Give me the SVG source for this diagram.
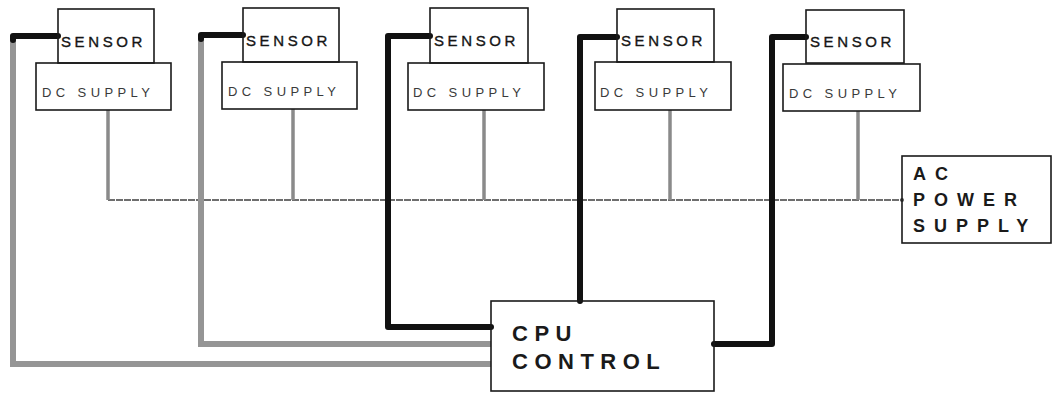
<svg xmlns="http://www.w3.org/2000/svg" width="1053" height="393" viewBox="0 0 1053 393">
<style>
.box{fill:none;stroke:#1a1a1a;stroke-width:1.6}
.sen{font-family:"Liberation Sans",Arial,sans-serif;font-size:15px;fill:#151515;stroke:#151515;stroke-width:0.35;letter-spacing:3.6px}
.dc{font-family:"Liberation Sans",Arial,sans-serif;font-size:13px;fill:#3a3a3a;letter-spacing:4.4px}
.big{font-family:"Liberation Sans",Arial,sans-serif;font-weight:bold;fill:#1a1a1a}
.blk{fill:none;stroke:#111;stroke-width:6;stroke-linecap:round;stroke-linejoin:round}
.gry{fill:none;stroke:#959595;stroke-width:6;stroke-linecap:butt;stroke-linejoin:miter}
.stub{fill:none;stroke:#8a8a8a;stroke-width:3.5}
.ac{fill:none;stroke:#6e6e6e;stroke-width:2.2;stroke-dasharray:7 1}
</style>
<rect width="1053" height="393" fill="#fff"/>
<g id="connectors">
  <polyline class="ac" points="108,200 902,200"/>
  <line class="stub" x1="108" y1="110" x2="108" y2="200"/>
  <line class="stub" x1="293" y1="109" x2="293" y2="200"/>
  <line class="stub" x1="484" y1="110" x2="484" y2="200"/>
  <line class="stub" x1="670" y1="110" x2="670" y2="200"/>
  <line class="stub" x1="858" y1="111" x2="858" y2="200"/>
  <circle cx="902" cy="200" r="2" fill="#555"/>
  <polyline class="gry" points="13,39 13,364 491,364"/>
  <polyline class="gry" points="201,38 201,344 491,344"/>
  <polyline class="blk" points="58,36 13,36 13,40"/>
  <polyline class="blk" points="243,35 201,35 201,39"/>
  <polyline class="blk" points="430,36 388,36 388,327 491,327"/>
  <polyline class="blk" points="617,37 580,37 580,301"/>
  <polyline class="blk" points="806,37 772,37 772,344 714,344"/>
</g>
<g id="sensor1">
  <rect class="box" x="58" y="9" width="96" height="54"/>
  <text class="sen" x="61" y="47">SENSOR</text>
</g>
<g id="dc1">
  <rect class="box" x="36" y="63" width="135" height="47" fill="#fff"/>
  <text class="dc" x="42" y="97">DC SUPPLY</text>
</g>
<g id="sensor2">
  <rect class="box" x="243" y="8" width="96" height="54"/>
  <text class="sen" x="246" y="46">SENSOR</text>
</g>
<g id="dc2">
  <rect class="box" x="222" y="62" width="135" height="47"/>
  <text class="dc" x="228" y="96">DC SUPPLY</text>
</g>
<g id="sensor3">
  <rect class="box" x="430" y="8" width="98" height="55"/>
  <text class="sen" x="434" y="46">SENSOR</text>
</g>
<g id="dc3">
  <rect class="box" x="408" y="63" width="136" height="47"/>
  <text class="dc" x="413" y="97">DC SUPPLY</text>
</g>
<g id="sensor4">
  <rect class="box" x="617" y="9" width="97" height="53"/>
  <text class="sen" x="621" y="46">SENSOR</text>
</g>
<g id="dc4">
  <rect class="box" x="595" y="62" width="136" height="48"/>
  <text class="dc" x="600" y="97">DC SUPPLY</text>
</g>
<g id="sensor5">
  <rect class="box" x="806" y="10" width="98" height="53"/>
  <text class="sen" x="810" y="47">SENSOR</text>
</g>
<g id="dc5">
  <rect class="box" x="783" y="64" width="137" height="47"/>
  <text class="dc" x="789" y="98">DC SUPPLY</text>
</g>
<g id="ac-power">
  <rect class="box" x="902" y="156" width="149" height="87"/>
  <text class="big" x="913" y="180" font-size="18" letter-spacing="9">AC</text>
  <text class="big" x="913" y="206" font-size="18" letter-spacing="9">POWER</text>
  <text class="big" x="913" y="232" font-size="18" letter-spacing="9">SUPPLY</text>
</g>
<g id="cpu">
  <rect class="box" x="491" y="301" width="223" height="90"/>
  <text class="big" x="512" y="341" font-size="22" letter-spacing="6.5">CPU</text>
  <text class="big" x="512" y="369" font-size="22" letter-spacing="6.5">CONTROL</text>
</g>
</svg>
